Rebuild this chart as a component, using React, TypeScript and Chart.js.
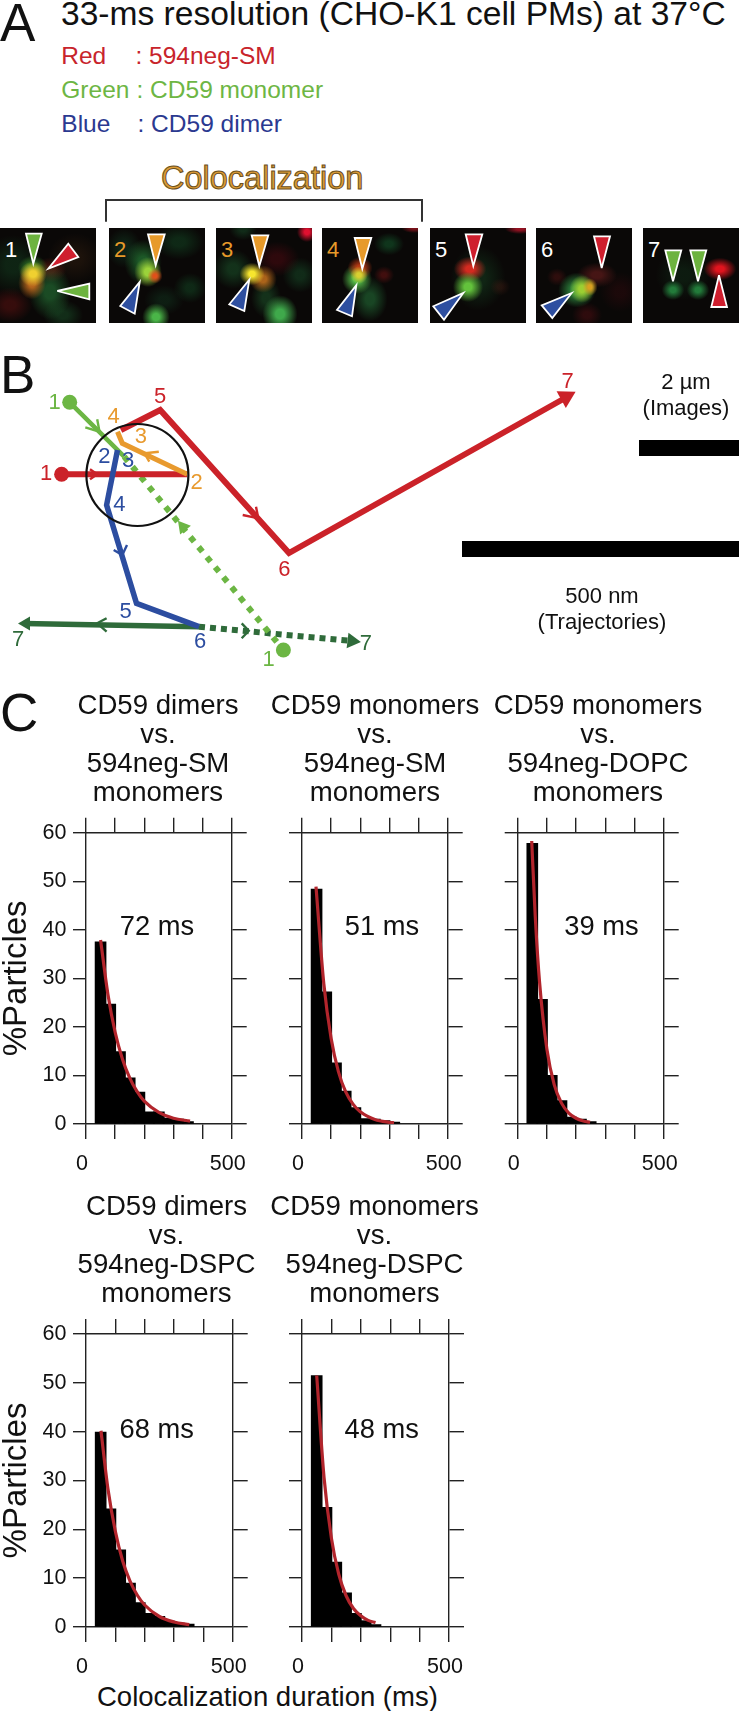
import React, { useEffect, useRef } from "react";
import { Chart, registerables } from "chart.js";
Chart.register(...registerables);

const FONT = "'Liberation Sans', Arial, sans-serif";

// ---------- Panel C data ----------
const durationBins = [50, 83.3, 116.7, 150, 183.3, 216.7, 250, 283.3, 316.7, 350];
const barsDimerSM = [37.5, 24.7, 14.9, 9.5, 6.6, 2.5, 2.5, 1.2, 1.0, 0.5];
const barsMonoSM = [48.4, 27.2, 12.6, 6.8, 3.4, 1.1, 1.0, 0.7, 0.4];
const barsMonoDOPC = [57.8, 25.7, 10.0, 4.8, 1.4, 1.0, 0.5];
const barsDimerDSPC = [39.9, 24.2, 15.8, 9.0, 5.0, 2.8, 2.2, 1.2, 0.8, 0.6];
const barsMonoDSPC = [51.5, 24.5, 13.3, 7.0, 2.8, 1.3, 0.5];

const fitDimerSMx = [50, 75, 100, 125, 150, 175, 200, 250, 300, 357];
const fitDimerSMy = [37.9, 26.8, 18.9, 13.4, 9.5, 6.7, 4.7, 2.4, 1.2, 0.6];
const fitMonoSMx = [48, 75, 100, 125, 150, 175, 200, 250, 300, 316];
const fitMonoSMy = [48.9, 28.8, 17.6, 10.8, 6.6, 4.1, 2.5, 0.93, 0.35, 0.25];
const fitMonoDOPCx = [48, 60, 75, 100, 125, 150, 175, 200, 225, 248];
const fitMonoDOPCy = [58.3, 42.9, 29.1, 15.4, 8.1, 4.3, 2.25, 1.18, 0.62, 0.35];
const fitDimerDSPCx = [51, 75, 100, 125, 150, 175, 200, 250, 300, 352];
const fitDimerDSPCy = [40.2, 28.2, 19.6, 13.5, 9.4, 6.5, 4.5, 2.15, 1.03, 0.48];
const fitMonoDSPCx = [50, 75, 100, 125, 150, 175, 200, 225, 250];
const fitMonoDSPCy = [51.5, 30.6, 18.2, 10.8, 6.4, 3.8, 2.3, 1.35, 0.9];

const xTickLabels = ["0", "", "", "", "", "500"];
const yTickLabels = ["0", "10", "20", "30", "40", "50", "60"];

type Panel = {
  title: string[]; note: string; noteX: number; noteY: number;
  bars: number[]; fitX: number[]; fitY: number[];
  left: number; width: number; top: number; height: number;
  plotL: number; plotR: number; padTop: number; padBottom: number; showY: boolean;
};

const PANELS: Panel[] = [
  { title: ["CD59 dimers", "vs.", "594neg-SM", "monomers"], note: "72 ms", noteX: 243.6, noteY: 40.4,
    bars: barsDimerSM, fitX: fitDimerSMx, fitY: fitDimerSMy,
    left: 0, width: 316, top: 680, height: 494, plotL: 86, plotR: 84.3, padTop: 12, padBottom: 9.7, showY: true },
  { title: ["CD59 monomers", "vs.", "594neg-SM", "monomers"], note: "51 ms", noteX: 274.5, noteY: 40.4,
    bars: barsMonoSM, fitX: fitMonoSMx, fitY: fitMonoSMy,
    left: 250, width: 250, top: 680, height: 494, plotL: 52, plotR: 52.3, padTop: 12, padBottom: 9.7, showY: false },
  { title: ["CD59 monomers", "vs.", "594neg-DOPC", "monomers"], note: "39 ms", noteX: 287, noteY: 40.4,
    bars: barsMonoDOPC, fitX: fitMonoDOPCx, fitY: fitMonoDOPCy,
    left: 473, width: 250, top: 680, height: 494, plotL: 44.7, plotR: 59.3, padTop: 12, padBottom: 9.7, showY: false },
  { title: ["CD59 dimers", "vs.", "594neg-DSPC", "monomers"], note: "68 ms", noteX: 241, noteY: 40.3,
    bars: barsDimerDSPC, fitX: fitDimerDSPCx, fitY: fitDimerDSPCy,
    left: 0, width: 333, top: 1180, height: 497, plotL: 86, plotR: 100.3, padTop: 12.5, padBottom: 10.5, showY: true },
  { title: ["CD59 monomers", "vs.", "594neg-DSPC", "monomers"], note: "48 ms", noteX: 271, noteY: 40.3,
    bars: barsMonoDSPC, fitX: fitMonoDSPCx, fitY: fitMonoDSPCy,
    left: 250, width: 249, top: 1180, height: 497, plotL: 52, plotR: 50, padTop: 12.5, padBottom: 10.5, showY: false },
];

// ---------- Panel B data (trajectory coordinates) ----------
const trajRed1 = [[61.6, 474.3], [187.2, 474.3]];
const trajOrange = [[187.2, 474.3], [122.3, 443.3], [117.5, 431.7]];
const trajRed2 = [[120.9, 430], [160.2, 410], [289, 553], [566, 397.5]];
const trajGreenSolid = [[69.7, 402.3], [124.2, 456.7]];
const trajGreenDotted = [[124.2, 456.7], [283.4, 650]];
const trajBlue = [[117.5, 450], [106.6, 505], [136.5, 603.3], [199, 626.7]];
const trajDarkSolid = [[199, 626.7], [24, 623.5]];
const trajDarkDotted = [[199, 626.7], [352, 641]];
const scaleBarImages = [[639, 448], [739, 448]];
const scaleBarTraj = [[462, 549], [739, 549]];
const trajCircle = [[137.4, 475]];
const redDots = [[61.6, 474.3]];
const greenDots = [[69.7, 402.3], [283.4, 650]];
const chevrons: [string, number[][]][] = [
  ["#cb2229", [[90, 469.3], [97.2, 474.3], [90, 479.3]]],
  ["#cb2229", [[242.7, 515], [258.3, 518.3], [256, 506.7]]],
  ["#6cb644", [[85.3, 427.3], [99.5, 431.7], [97.2, 419.3]]],
  ["#e89a2e", [[158.8, 451.7], [144.5, 453.3], [149.3, 461.7]]],
  ["#2c4da0", [[113.7, 550], [122.3, 555], [127, 545]]],
  ["#2f6b3a", [[106.6, 618.3], [97.2, 623.3], [106.6, 631.7]]],
  ["#2f6b3a", [[241.7, 623.3], [248.8, 630.7], [241.7, 638.3]]],
];
const heads: [string, number, number, number, number][] = [
  ["#cb2229", 566, 397, 61, 11],
  ["#2f6b3a", 26, 623.5, -90, 8],
  ["#2f6b3a", 352, 641, 97, 9],
  ["#6cb644", 183, 527, -39, 8],
];
const trajLabels: [string, number, number, string][] = [
  ["1", 46, 474, "#cb2229"], ["5", 160.2, 397.3, "#cb2229"], ["7", 567.7, 381.7, "#cb2229"], ["6", 284.4, 570, "#cb2229"],
  ["1", 54.5, 403.3, "#6cb644"], ["1", 268.7, 660, "#6cb644"],
  ["4", 113.7, 416.7, "#e89a2e"], ["3", 140.8, 437.3, "#e89a2e"], ["2", 196.7, 483.3, "#e89a2e"],
  ["2", 104.3, 457.3, "#2c4da0"], ["3", 128, 460.7, "#2c4da0"], ["4", 119.4, 505, "#2c4da0"], ["5", 125.6, 611.7, "#2c4da0"], ["6", 200, 641.7, "#2c4da0"],
  ["7", 18, 640, "#2f6b3a"], ["7", 365.9, 644, "#2f6b3a"],
  ["2 µm", 686, 382.7, "#111"], ["(Images)", 686, 409, "#111"],
  ["500 nm", 602, 596.7, "#111"], ["(Trajectories)", 602, 623.3, "#111"],
];

// ---------- Panel A data (micrograph tiles) ----------
type Blob = [number, number, number, number, string];
type Tri = [string, number[]];
const ORANGE = "#e79a2a", GREEN = "#6db33f", RED = "#cf1f2e", BLUE = "#2e4fa0";
const tiles: { left: number; n: string; c: string; blobs: Blob[]; tris: Tri[] }[] = [
  { left: 0, n: "1", c: "#fff", blobs: [
    [33, 46, 11, 10, "rgba(240,208,48,1)"], [32, 55, 11, 13, "rgba(200,110,30,.9)"], [33, 40, 12, 10, "rgba(70,170,50,.7)"],
    [50, 64, 17, 22, "rgba(40,130,60,.55)"], [50, 42, 13, 10, "rgba(130,30,20,.5)"], [10, 77, 18, 14, "rgba(120,20,20,.4)"],
    [63, 87, 16, 12, "rgba(30,100,50,.4)"], [13, 37, 24, 24, "rgba(20,70,35,.45)"], [75, 30, 22, 20, "rgba(50,30,15,.45)"]],
    tris: [[GREEN, [26, 5.7, 41.7, 5.7, 33.3, 35.7]], [RED, [68.3, 15.7, 78.3, 29, 48.3, 40.7]], [GREEN, [89.3, 55.7, 89.3, 71.3, 57.3, 63]]] },
  { left: 109.3, n: "2", c: ORANGE, blobs: [
    [46, 48, 6, 6, "rgba(224,80,26,1)"], [39, 44, 11, 12, "rgba(155,210,58,1)"], [47, 89, 11, 11, "rgba(74,181,72,1)"],
    [34, 34, 15, 18, "rgba(40,140,60,.6)"], [70, 14, 20, 14, "rgba(20,80,40,.45)"], [81, 60, 13, 12, "rgba(20,80,40,.45)"],
    [15, 20, 14, 16, "rgba(20,70,40,.45)"], [55, 72, 16, 12, "rgba(20,70,40,.35)"]],
    tris: [[ORANGE, [39, 6.3, 55.7, 6.3, 46.7, 37.3]], [BLUE, [30.7, 54, 25.7, 85.7, 11.3, 78]]] },
  { left: 216, n: "3", c: ORANGE, blobs: [
    [36, 46, 10, 9, "rgba(246,229,46,1)"], [47, 51, 11, 11, "rgba(210,120,30,.8)"], [64, 86, 14, 15, "rgba(63,169,75,1)"],
    [91, 4, 8, 8, "rgba(224,16,48,1)"], [17, 41, 16, 16, "rgba(30,100,50,.45)"], [61, 31, 18, 14, "rgba(100,10,20,.4)"],
    [84, 47, 14, 14, "rgba(25,85,45,.45)"], [27, 1, 11, 9, "rgba(25,85,45,.45)"], [50, 70, 12, 16, "rgba(30,90,45,.5)"]],
    tris: [[ORANGE, [35.7, 7.3, 52.3, 7.3, 43.3, 38]], [BLUE, [33.3, 51.7, 28.3, 83, 13.3, 76.3]]] },
  { left: 321.7, n: "4", c: ORANGE, blobs: [
    [37, 47, 7, 7, "rgba(216,208,48,1)"], [38, 40, 10, 9, "rgba(200,60,20,.9)"], [35, 51, 12, 12, "rgba(84,185,72,1)"],
    [48, 71, 14, 18, "rgba(35,110,55,.6)"], [62, 47, 8, 7, "rgba(110,20,20,.55)"], [67, 16, 12, 9, "rgba(20,90,45,.55)"],
    [92, 0, 10, 4, "rgba(150,20,30,.8)"]],
    tris: [[ORANGE, [32.7, 10, 49.3, 10, 40.3, 40.7]], [BLUE, [34.3, 57.3, 30, 88.3, 15, 82]]] },
  { left: 430, n: "5", c: "#fff", blobs: [
    [38, 59, 12, 12, "rgba(99,194,60,1)"], [40, 41, 13, 10, "rgba(212,42,32,1)"], [90, 1, 12, 4, "rgba(180,20,40,.8)"],
    [70, 59, 8, 7, "rgba(70,30,20,.4)"], [48, 50, 22, 26, "rgba(25,80,40,.4)"]],
    tris: [[RED, [35.7, 6.3, 52.3, 6.3, 43.3, 38]], [BLUE, [33.3, 65, 14, 91.7, 3.3, 78.3]]] },
  { left: 536, n: "6", c: "#fff", blobs: [
    [54, 59, 6, 7, "rgba(216,160,32,1)"], [46, 61, 10, 11, "rgba(156,207,50,1)"], [41, 62, 15, 14, "rgba(53,160,74,.85)"],
    [61, 47, 16, 10, "rgba(110,30,30,.6)"], [51, 87, 12, 10, "rgba(90,15,20,.45)"], [21, 49, 8, 7, "rgba(90,20,20,.45)"],
    [84, 64, 16, 16, "rgba(60,10,15,.35)"]],
    tris: [[RED, [58, 8.3, 74, 8.3, 65.7, 40]], [BLUE, [35.7, 65, 16.3, 90, 5.7, 77.3]]] },
  { left: 643.3, n: "7", c: "#fff", blobs: [
    [77, 41, 13, 9, "rgba(224,20,30,1)"], [30, 62, 9, 8, "rgba(40,150,70,.8)"], [55, 62, 9, 8, "rgba(40,150,70,.8)"],
    [40, 47, 22, 20, "rgba(20,70,35,.3)"]],
    tris: [[GREEN, [22.3, 22.3, 38.3, 22.3, 30, 53.3]], [GREEN, [47.3, 22.3, 63.3, 22.3, 55, 53.3]], [RED, [76, 47.3, 84, 79, 68.3, 79]]] },
];

const AXIS = "#222";
const axisBase = {
  min: 0,
  offset: false,
  border: { display: true, color: AXIS, width: 1.4 },
};
const gridBase = (len: number) => ({
  display: true, offset: false, drawOnChartArea: false, drawTicks: true, tickLength: len,
  color: AXIS, tickColor: AXIS, tickWidth: 1.4, lineWidth: 1.4,
});

function Histogram({ p }: { p: Panel }) {
  const ref = useRef<HTMLCanvasElement>(null);
  useEffect(() => {
    const notePlugin = {
      id: "note",
      afterDatasetsDraw(c: any) {
        const g = c.ctx;
        g.save();
        g.font = `27.3px ${FONT}`;
        g.fillStyle = "#111";
        g.textAlign = "center";
        g.textBaseline = "middle";
        g.fillText(p.note, c.scales.x.getPixelForValue(p.noteX), c.scales.y.getPixelForValue(p.noteY));
        g.restore();
      },
    };
    const chart = new Chart(ref.current!, {
      type: "bar",
      data: {
        datasets: [
          {
            type: "line",
            data: p.fitX.map((x, i) => ({ x, y: p.fitY[i] })),
            borderColor: "#b2252c",
            borderWidth: 3.2,
            pointRadius: 0,
            cubicInterpolationMode: "monotone",
            order: 0,
            xAxisID: "x",
            yAxisID: "y",
          },
          {
            type: "bar",
            data: p.bars.map((y, i) => ({ x: durationBins[i], y })),
            backgroundColor: "#000",
            borderWidth: 0,
            barThickness: 11,
            grouped: false,
            order: 1,
            xAxisID: "x",
            yAxisID: "y",
          },
        ] as any,
      },
      options: {
        animation: false,
        responsive: false,
        devicePixelRatio: 1,
        layout: { padding: 0, autoPadding: false },
        plugins: {
          legend: { display: false },
          tooltip: { enabled: false },
          title: {
            display: true,
            text: p.title,
            color: "#111",
            font: { family: FONT, size: 27.6, weight: "normal", lineHeight: 29 / 27.6 },
            padding: { top: p.padTop, bottom: p.padBottom },
          },
        },
        scales: {
          x: {
            ...axisBase, type: "linear", position: "bottom", max: 500,
            grid: gridBase(15),
            ticks: {
              stepSize: 100, autoSkip: false, maxRotation: 0, padding: 12, labelOffset: -4,
              color: "#111", font: { family: FONT, size: 21.5 },
              callback: (_v: any, i: number) => xTickLabels[i],
            },
            afterFit: (s: any) => { s.height = 50; },
          },
          x2: {
            ...axisBase, type: "linear", axis: "x", position: "top", max: 500,
            grid: gridBase(15),
            ticks: { display: false, stepSize: 100 },
            afterFit: (s: any) => { s.height = 15; },
          },
          y: {
            ...axisBase, type: "linear", position: "left", max: 60,
            grid: gridBase(13),
            title: p.showY
              ? { display: true, text: "%Particles", color: "#111", font: { family: FONT, size: 33, lineHeight: 1 }, padding: 0 }
              : { display: false },
            ticks: {
              stepSize: 10, autoSkip: false, padding: 6.5, color: "#111", font: { family: FONT, size: 21.5 },
              callback: (_v: any, i: number) => (p.showY ? yTickLabels[i] : ""),
            },
            afterFit: (s: any) => { s.width = p.plotL; },
          },
          y2: {
            ...axisBase, type: "linear", axis: "y", position: "right", max: 60,
            grid: gridBase(15),
            ticks: { display: false, stepSize: 10 },
            afterFit: (s: any) => { s.width = p.plotR; },
          },
        },
      } as any,
      plugins: [notePlugin],
    });
    return () => chart.destroy();
  }, [p]);
  return (
    <canvas
      ref={ref}
      width={p.width}
      height={p.height}
      style={{ position: "absolute", left: p.left, top: p.top, width: p.width, height: p.height }}
    />
  );
}

function Trajectories() {
  const ref = useRef<HTMLCanvasElement>(null);
  useEffect(() => {
    const pts = (a: number[][]) => a.map(([x, y]) => ({ x, y }));
    const line = (data: number[][], color: string, w: number, extra: any = {}) => ({
      data: pts(data), showLine: true, borderColor: color, borderWidth: w, pointRadius: 0,
      borderCapStyle: "butt", borderJoinStyle: "miter", tension: 0, clip: false, ...extra,
    });
    const labelPlugin = {
      id: "trajLabels",
      afterDatasetsDraw(c: any) {
        const g = c.ctx;
        g.save();
        g.font = `22px ${FONT}`;
        g.textAlign = "center";
        g.textBaseline = "middle";
        trajLabels.forEach(([t, x, y, col]) => {
          g.fillStyle = col;
          g.fillText(t, c.scales.x.getPixelForValue(x), c.scales.y.getPixelForValue(y));
        });
        g.restore();
      },
    };
    const chart = new Chart(ref.current!, {
      type: "scatter",
      data: {
        datasets: [
          { data: pts(trajCircle), pointRadius: 51, pointBorderWidth: 2.2, pointBorderColor: "#111", pointBackgroundColor: "transparent" },
          { data: pts(redDots), pointRadius: 7.5, pointBackgroundColor: "#cb2229", pointBorderWidth: 0 },
          { data: pts(greenDots), pointRadius: 7.5, pointBackgroundColor: "#6cb644", pointBorderWidth: 0 },
          ...heads.map(([col, x, y, rot, r]) => ({
            data: [{ x, y }], pointStyle: "triangle", pointRotation: rot, pointRadius: r,
            pointBackgroundColor: col, pointBorderWidth: 0,
          })),
          ...chevrons.map(([col, d]) => line(d, col, 2.4)),
          line(trajBlue, "#2c4da0", 5.5),
          line(trajOrange, "#e89a2e", 5),
          line(trajRed1, "#cb2229", 6),
          line(trajRed2, "#cb2229", 6),
          line(trajGreenSolid, "#6cb644", 4.5),
          line(trajGreenDotted, "#6cb644", 6, { borderDash: [6, 7] }),
          line(trajDarkSolid, "#2f6b3a", 5.5),
          line(trajDarkDotted, "#2f6b3a", 6, { borderDash: [6, 5] }),
          line(scaleBarImages, "#000", 16),
          line(scaleBarTraj, "#000", 16),
        ] as any,
      },
      options: {
        animation: false,
        responsive: false,
        devicePixelRatio: 1,
        layout: { padding: 0, autoPadding: false },
        plugins: { legend: { display: false }, tooltip: { enabled: false } },
        scales: {
          x: { type: "linear", display: false, min: 0, max: 739 },
          y: { type: "linear", display: false, min: 340, max: 680, reverse: true },
        },
      } as any,
      plugins: [labelPlugin],
    });
    return () => chart.destroy();
  }, []);
  return (
    <canvas ref={ref} width={739} height={340} style={{ position: "absolute", left: 0, top: 340, width: 739, height: 340 }} />
  );
}

function Txt({ x, y, size, color = "#111", children, style }: any) {
  return (
    <div
      style={{
        position: "absolute", left: x, top: y, fontSize: size, color, fontFamily: FONT,
        whiteSpace: "nowrap", lineHeight: 1, transform: "translateY(-50%)", ...style,
      }}
    >
      {children}
    </div>
  );
}

function Tile({ t }: { t: (typeof tiles)[number] }) {
  const bg = t.blobs
    .map(([x, y, rx, ry, col]) => {
      const clear = col.replace(/,[^,]*\)$/, ",0)");
      return `radial-gradient(${rx * 1.25}px ${ry * 1.25}px at ${x}px ${y}px, ${col} 0%, ${col} 25%, ${clear} 100%)`;
    })
    .join(",");
  return (
    <div
      style={{
        position: "absolute", left: t.left, top: 227.7, width: 96, height: 95,
        backgroundColor: "#0a0807", backgroundImage: bg,
      }}
    >
      <svg width={96} height={95} style={{ position: "absolute", left: 0, top: 0 }}>
        <text x={11} y={29} textAnchor="middle" fontSize={22} fontFamily={FONT} fill={t.c}>{t.n}</text>
        {t.tris.map(([c, p], i) => (
          <polygon key={i} points={p.join(" ")} fill={c} stroke="#fff" strokeWidth={1.8} strokeLinejoin="miter" />
        ))}
      </svg>
    </div>
  );
}

export default function App() {
  return (
    <div style={{ position: "absolute", left: 0, top: 0, width: 739, height: 1711, overflow: "hidden", background: "#fff" }}>
      <Txt x={0} y={22} size={53}>A</Txt>
      <Txt x={61} y={14} size={33.6}>33-ms resolution (CHO-K1 cell PMs) at 37°C</Txt>
      <Txt x={61.3} y={55.7} size={24.5} color="#c8242b">Red</Txt>
      <Txt x={135.4} y={55.7} size={24.5} color="#c8242b">: 594neg-SM</Txt>
      <Txt x={61.3} y={90} size={24.5} color="#6db644">Green</Txt>
      <Txt x={136.5} y={90} size={24.5} color="#6db644">: CD59 monomer</Txt>
      <Txt x={61.3} y={124} size={24.5} color="#2b3990">Blue</Txt>
      <Txt x={137.5} y={124} size={24.5} color="#2b3990">: CD59 dimer</Txt>
      <Txt x={161} y={178} size={32.5} color="#dd9c36" style={{ WebkitTextStroke: "1px #6b4f1d" }}>Colocalization</Txt>
      <svg width={739} height={240} style={{ position: "absolute", left: 0, top: 0 }}>
        <polyline points="106,221.7 106,200 422,200 422,221.7" fill="none" stroke="#333" strokeWidth={2} />
      </svg>
      {tiles.map((t) => <Tile key={t.n} t={t} />)}

      <Txt x={0} y={374} size={53}>B</Txt>
      <Trajectories />

      <Txt x={0} y={712} size={53}>C</Txt>
      {PANELS.map((p) => <Histogram key={p.note} p={p} />)}
      <Txt x={97} y={1696.5} size={27.5}>Colocalization duration (ms)</Txt>
    </div>
  );
}
